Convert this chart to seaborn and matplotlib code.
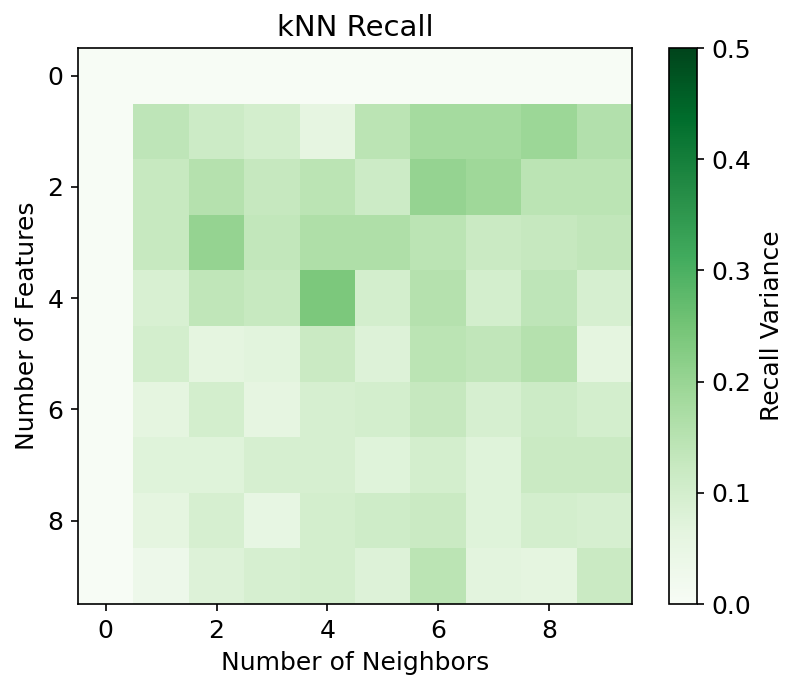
import numpy as np
import matplotlib
matplotlib.use('Agg')
import matplotlib.pyplot as plt
import seaborn as sns

n_neighbors = list(range(10))
n_features = list(range(10))

# recall variance, rows = number of features, cols = number of neighbors
row0 = [0.0, 0.0, 0.0, 0.0, 0.0, 0.0, 0.0, 0.0, 0.0, 0.0]
row1 = [0.0, 0.140, 0.115, 0.100, 0.060, 0.145, 0.180, 0.180, 0.195, 0.160]
row2 = [0.0, 0.125, 0.155, 0.128, 0.145, 0.115, 0.205, 0.190, 0.145, 0.145]
row3 = [0.0, 0.125, 0.205, 0.133, 0.165, 0.165, 0.145, 0.120, 0.127, 0.135]
row4 = [0.0, 0.090, 0.137, 0.125, 0.240, 0.100, 0.155, 0.100, 0.140, 0.095]
row5 = [0.0, 0.100, 0.063, 0.070, 0.120, 0.080, 0.145, 0.135, 0.155, 0.063]
row6 = [0.0, 0.063, 0.100, 0.060, 0.095, 0.100, 0.127, 0.095, 0.115, 0.100]
row7 = [0.0, 0.075, 0.075, 0.095, 0.095, 0.075, 0.100, 0.075, 0.120, 0.120]
row8 = [0.0, 0.063, 0.095, 0.055, 0.100, 0.110, 0.120, 0.075, 0.100, 0.095]
row9 = [0.0, 0.035, 0.080, 0.095, 0.100, 0.080, 0.145, 0.068, 0.063, 0.120]

recall_var = np.array([row0, row1, row2, row3, row4, row5, row6, row7, row8, row9])

fig = plt.figure(figsize=(5.32, 4.6), dpi=150)
ax = fig.add_axes([78/798, 1-604/690, 554/798, 556/690])
cax = fig.add_axes([669/798, 1-604/690, 28/798, 556/690])

sns.heatmap(recall_var, cmap='Greens', vmin=0, vmax=0.5, ax=ax, cbar_ax=cax,
            square=False, xticklabels=False, yticklabels=False)

ticks = [0, 2, 4, 6, 8]
ax.set_xticks([t + 0.5 for t in ticks])
ax.set_xticklabels([str(t) for t in ticks], fontsize=12, rotation=0)
ax.set_yticks([t + 0.5 for t in ticks])
ax.set_yticklabels([str(t) for t in ticks], fontsize=12, rotation=0)
ax.tick_params(length=3.5, width=0.8)
for s in ax.spines.values():
    s.set_visible(True)
    s.set_linewidth(0.8)

ax.set_xlabel("Number of Neighbors", fontsize=12)
ax.set_ylabel("Number of Features", fontsize=12)
ax.set_title("kNN Recall", fontsize=14)

cbar = ax.collections[0].colorbar
cbar.outline.set_visible(True)
cbar.outline.set_linewidth(0.8)
cbar.set_ticks([0.0, 0.1, 0.2, 0.3, 0.4, 0.5])
cbar.ax.tick_params(labelsize=12, length=3.5, width=0.8)
cbar.set_label("Recall Variance", fontsize=12)

fig.savefig("out.png", dpi=150)
